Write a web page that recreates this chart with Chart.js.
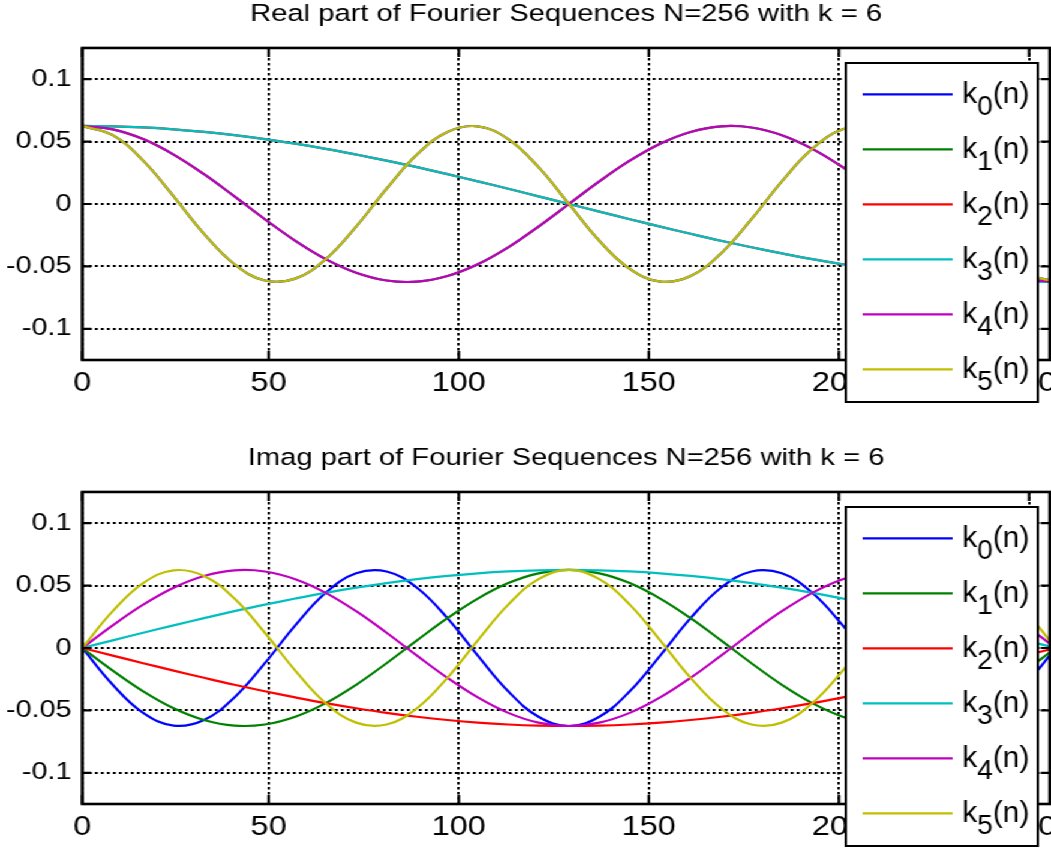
<!DOCTYPE html>
<html>
<head>
<meta charset="utf-8">
<script src="https://cdn.jsdelivr.net/npm/chart.js@4.4.1/dist/chart.umd.min.js"></script>
<style>
    html, body { margin: 0; padding: 0; background: #fff; overflow: hidden; }
    /* the figure is drawn narrow and stretched sideways, like the original */
    #figure { width: 876px; transform: scaleX(1.19977); transform-origin: 0 0; }
    canvas { display: block; }
</style>
</head>
<body>
<div id="figure">
    <canvas id="realChart" width="876" height="444"></canvas>
    <canvas id="imagChart" width="876" height="404"></canvas>
</div>
<script>
// sample index n (plotted at MATLAB index n + 1)
const sampleIdx = [0, 8, 16, 24, 32, 40, 48, 56, 64, 72, 80, 88, 96, 104, 112, 120, 128,
    136, 144, 152, 160, 168, 176, 184, 192, 200, 208, 216, 224, 232, 240, 248, 256];

const xTickValues = [1, 50, 100, 150, 200, 250];
const xTickLabels = ['0', '50', '100', '150', '200', '250'];
const yTickValues = [-0.1, -0.05, 0, 0.05, 0.1];
const yTickLabels = ['-0.1', '-0.05', '0', '0.05', '0.1'];

const seriesSubs = ['0', '1', '2', '3', '4', '5'];
const seriesColors = ['#0000ff', '#008000', '#ff0000', '#00bfbf', '#bf00bf', '#bfbf00'];

// Real parts (k0 lies under k5, k1 under k4, k2 under k3)
const realK0 = [0.0625, 0.0551, 0.0347, 0.0061, -0.0239, -0.0483, -0.0613, -0.0598, -0.0442, -0.0181, 0.0122,
    0.0396, 0.0577, 0.0622, 0.0520, 0.0295, 0, -0.0295, -0.0520, -0.0622, -0.0577, -0.0396, -0.0122,
    0.0181, 0.0442, 0.0598, 0.0613, 0.0483, 0.0239, -0.0061, -0.0347, -0.0551, -0.0625];
const realK1 = [0.0625, 0.0598, 0.0520, 0.0396, 0.0239, 0.0061, -0.0122, -0.0295, -0.0442, -0.0551, -0.0613,
    -0.0622, -0.0577, -0.0483, -0.0347, -0.0181, 0, 0.0181, 0.0347, 0.0483, 0.0577, 0.0622, 0.0613,
    0.0551, 0.0442, 0.0295, 0.0122, -0.0061, -0.0239, -0.0396, -0.0520, -0.0598, -0.0625];
const realK2 = [0.0625, 0.0622, 0.0613, 0.0598, 0.0577, 0.0551, 0.0520, 0.0483, 0.0442, 0.0396, 0.0347,
    0.0295, 0.0239, 0.0181, 0.0122, 0.0061, 0, -0.0061, -0.0122, -0.0181, -0.0239, -0.0295, -0.0347,
    -0.0396, -0.0442, -0.0483, -0.0520, -0.0551, -0.0577, -0.0598, -0.0613, -0.0622, -0.0625];
const realK3 = [0.0625, 0.0622, 0.0613, 0.0598, 0.0577, 0.0551, 0.0520, 0.0483, 0.0442, 0.0396, 0.0347,
    0.0295, 0.0239, 0.0181, 0.0122, 0.0061, 0, -0.0061, -0.0122, -0.0181, -0.0239, -0.0295, -0.0347,
    -0.0396, -0.0442, -0.0483, -0.0520, -0.0551, -0.0577, -0.0598, -0.0613, -0.0622, -0.0625];
const realK4 = [0.0625, 0.0598, 0.0520, 0.0396, 0.0239, 0.0061, -0.0122, -0.0295, -0.0442, -0.0551, -0.0613,
    -0.0622, -0.0577, -0.0483, -0.0347, -0.0181, 0, 0.0181, 0.0347, 0.0483, 0.0577, 0.0622, 0.0613,
    0.0551, 0.0442, 0.0295, 0.0122, -0.0061, -0.0239, -0.0396, -0.0520, -0.0598, -0.0625];
const realK5 = [0.0625, 0.0551, 0.0347, 0.0061, -0.0239, -0.0483, -0.0613, -0.0598, -0.0442, -0.0181, 0.0122,
    0.0396, 0.0577, 0.0622, 0.0520, 0.0295, 0, -0.0295, -0.0520, -0.0622, -0.0577, -0.0396, -0.0122,
    0.0181, 0.0442, 0.0598, 0.0613, 0.0483, 0.0239, -0.0061, -0.0347, -0.0551, -0.0625];

// Imag parts
const imagK0 = [0, -0.0295, -0.0520, -0.0622, -0.0577, -0.0396, -0.0122, 0.0181, 0.0442, 0.0598, 0.0613,
    0.0483, 0.0239, -0.0061, -0.0347, -0.0551, -0.0625, -0.0551, -0.0347, -0.0061, 0.0239, 0.0483, 0.0613,
    0.0598, 0.0442, 0.0181, -0.0122, -0.0396, -0.0577, -0.0622, -0.0520, -0.0295, 0];
const imagK1 = [0, -0.0181, -0.0347, -0.0483, -0.0577, -0.0622, -0.0613, -0.0551, -0.0442, -0.0295, -0.0122,
    0.0061, 0.0239, 0.0396, 0.0520, 0.0598, 0.0625, 0.0598, 0.0520, 0.0396, 0.0239, 0.0061, -0.0122,
    -0.0295, -0.0442, -0.0551, -0.0613, -0.0622, -0.0577, -0.0483, -0.0347, -0.0181, 0];
const imagK2 = [0, -0.0061, -0.0122, -0.0181, -0.0239, -0.0295, -0.0347, -0.0396, -0.0442, -0.0483, -0.0520,
    -0.0551, -0.0577, -0.0598, -0.0613, -0.0622, -0.0625, -0.0622, -0.0613, -0.0598, -0.0577, -0.0551, -0.0520,
    -0.0483, -0.0442, -0.0396, -0.0347, -0.0295, -0.0239, -0.0181, -0.0122, -0.0061, 0];
const imagK3 = [0, 0.0061, 0.0122, 0.0181, 0.0239, 0.0295, 0.0347, 0.0396, 0.0442, 0.0483, 0.0520,
    0.0551, 0.0577, 0.0598, 0.0613, 0.0622, 0.0625, 0.0622, 0.0613, 0.0598, 0.0577, 0.0551, 0.0520,
    0.0483, 0.0442, 0.0396, 0.0347, 0.0295, 0.0239, 0.0181, 0.0122, 0.0061, 0];
const imagK4 = [0, 0.0181, 0.0347, 0.0483, 0.0577, 0.0622, 0.0613, 0.0551, 0.0442, 0.0295, 0.0122,
    -0.0061, -0.0239, -0.0396, -0.0520, -0.0598, -0.0625, -0.0598, -0.0520, -0.0396, -0.0239, -0.0061, 0.0122,
    0.0295, 0.0442, 0.0551, 0.0613, 0.0622, 0.0577, 0.0483, 0.0347, 0.0181, 0];
const imagK5 = [0, 0.0295, 0.0520, 0.0622, 0.0577, 0.0396, 0.0122, -0.0181, -0.0442, -0.0598, -0.0613,
    -0.0483, -0.0239, 0.0061, 0.0347, 0.0551, 0.0625, 0.0551, 0.0347, 0.0061, -0.0239, -0.0483, -0.0613,
    -0.0598, -0.0442, -0.0181, 0.0122, 0.0396, 0.0577, 0.0622, 0.0520, 0.0295, 0];

const FONT = '"Liberation Sans", Arial, Helvetica, sans-serif';
const SX = 1051 / 876;

// Axes box with inward tick marks on all four sides
const frameAndTicks = {
    id: 'frameAndTicks',
    afterDatasetsDraw(chart) {
        const { ctx, chartArea: a } = chart;
        const xs = chart.scales.x, ys = chart.scales.y;
        ctx.save();
        ctx.strokeStyle = '#000';
        ctx.lineWidth = 2.2;
        ctx.setLineDash([]);
        ctx.beginPath();
        xs.ticks.forEach(t => {
            const px = xs.getPixelForValue(t.value);
            ctx.moveTo(px, a.top); ctx.lineTo(px, a.top + 9);
            ctx.moveTo(px, a.bottom); ctx.lineTo(px, a.bottom - 9);
        });
        ys.ticks.forEach(t => {
            const py = ys.getPixelForValue(t.value);
            ctx.moveTo(a.left, py); ctx.lineTo(a.left + 7.5, py);
            ctx.moveTo(a.right, py); ctx.lineTo(a.right - 7.5, py);
        });
        ctx.stroke();
        ctx.lineWidth = 2.6;
        ctx.strokeRect(a.left, a.top, a.right - a.left, a.bottom - a.top);
        ctx.restore();
    }
};

// Boxed legend with k_i(n) labels (subscript digit)
const boxLegend = {
    id: 'boxLegend',
    afterDraw(chart) {
        const ctx = chart.ctx;
        ctx.save();
        ctx.fillStyle = '#fff';
        ctx.strokeStyle = '#000';
        ctx.lineWidth = 2;
        ctx.fillRect(705, 63, 160, 339);
        ctx.strokeRect(705, 63, 160, 339);

        chart.data.datasets.forEach((ds, i) => {
            const yRow = 94.3 + i * 55;
            ctx.strokeStyle = ds.borderColor;
            ctx.lineWidth = 2.2;
            ctx.beginPath();
            ctx.moveTo(719, yRow);
            ctx.lineTo(794, yRow);
            ctx.stroke();

            // text is drawn un-stretched
            ctx.save();
            ctx.translate(802, yRow + 9);
            ctx.scale(1 / SX, 1);
            ctx.fillStyle = '#000';
            ctx.textBaseline = 'alphabetic';
            ctx.textAlign = 'left';
            ctx.font = '30px ' + FONT;
            ctx.fillText('k', 0, 0);
            let w = ctx.measureText('k').width;
            ctx.font = '28px ' + FONT;
            ctx.fillText(seriesSubs[i], w, 11.7);
            w += ctx.measureText(seriesSubs[i]).width;
            ctx.font = '30px ' + FONT;
            ctx.fillText('(n)', w, 0);
            ctx.restore();
        });
        ctx.restore();
    }
};

function makeChart(canvasId, titleText, seriesList, axisHeight) {
    return new Chart(document.getElementById(canvasId), {
        type: 'line',
        data: {
            datasets: seriesList.map((vals, i) => ({
                label: 'k' + seriesSubs[i] + '(n)',
                data: sampleIdx.map((n, j) => ({ x: n + 1, y: vals[j] })),
                borderColor: seriesColors[i],
                borderWidth: 2.2,
                pointRadius: 0,
                fill: false,
                tension: 0.4,
                order: seriesList.length - i   // later series drawn on top
            }))
        },
        options: {
            responsive: false,
            animation: false,
            devicePixelRatio: 1,
            layout: { padding: { left: 0, right: 1, top: 0, bottom: 0 } },
            plugins: {
                legend: { display: false },
                tooltip: { enabled: false },
                title: {
                    display: true,
                    text: titleText,
                    fullSize: false,
                    color: '#000',
                    font: { family: FONT, size: 24.3, weight: 'normal', lineHeight: 1.2 },
                    padding: { top: 0, bottom: 18.8 }
                }
            },
            scales: {
                x: {
                    type: 'linear',
                    min: 1,
                    max: 255.45,
                    afterBuildTicks: s => { s.ticks = xTickValues.map(v => ({ value: v })); },
                    afterFit: s => { s.height = axisHeight; s.paddingLeft = 0; s.paddingRight = 0; },
                    grid: { color: '#000', lineWidth: 2, drawTicks: false },
                    border: { display: false, dash: [2.5, 2.5] },
                    ticks: {
                        color: '#000',
                        font: { family: FONT, size: 27, weight: 'normal' },
                        padding: 7,
                        maxRotation: 0,
                        autoSkip: false,
                        callback: (v, idx) => xTickLabels[idx]
                    }
                },
                y: {
                    min: -0.125,
                    max: 0.125,
                    afterBuildTicks: s => { s.ticks = yTickValues.map(v => ({ value: v })); },
                    afterFit: s => { s.width = 68.6; },
                    grid: { color: '#000', lineWidth: 2, drawTicks: false },
                    border: { display: false, dash: [2.5, 2.5] },
                    ticks: {
                        color: '#000',
                        font: { family: FONT, size: 24, weight: 'normal' },
                        padding: 9,
                        callback: (v, idx) => yTickLabels[idx]
                    }
                }
            }
        },
        plugins: [frameAndTicks, boxLegend]
    });
}

makeChart('realChart', 'Real part of Fourier Sequences N=256 with k = 6',
    [realK0, realK1, realK2, realK3, realK4, realK5], 84);
makeChart('imagChart', 'Imag part of Fourier Sequences N=256 with k = 6',
    [imagK0, imagK1, imagK2, imagK3, imagK4, imagK5], 44);
</script>
</body>
</html>
